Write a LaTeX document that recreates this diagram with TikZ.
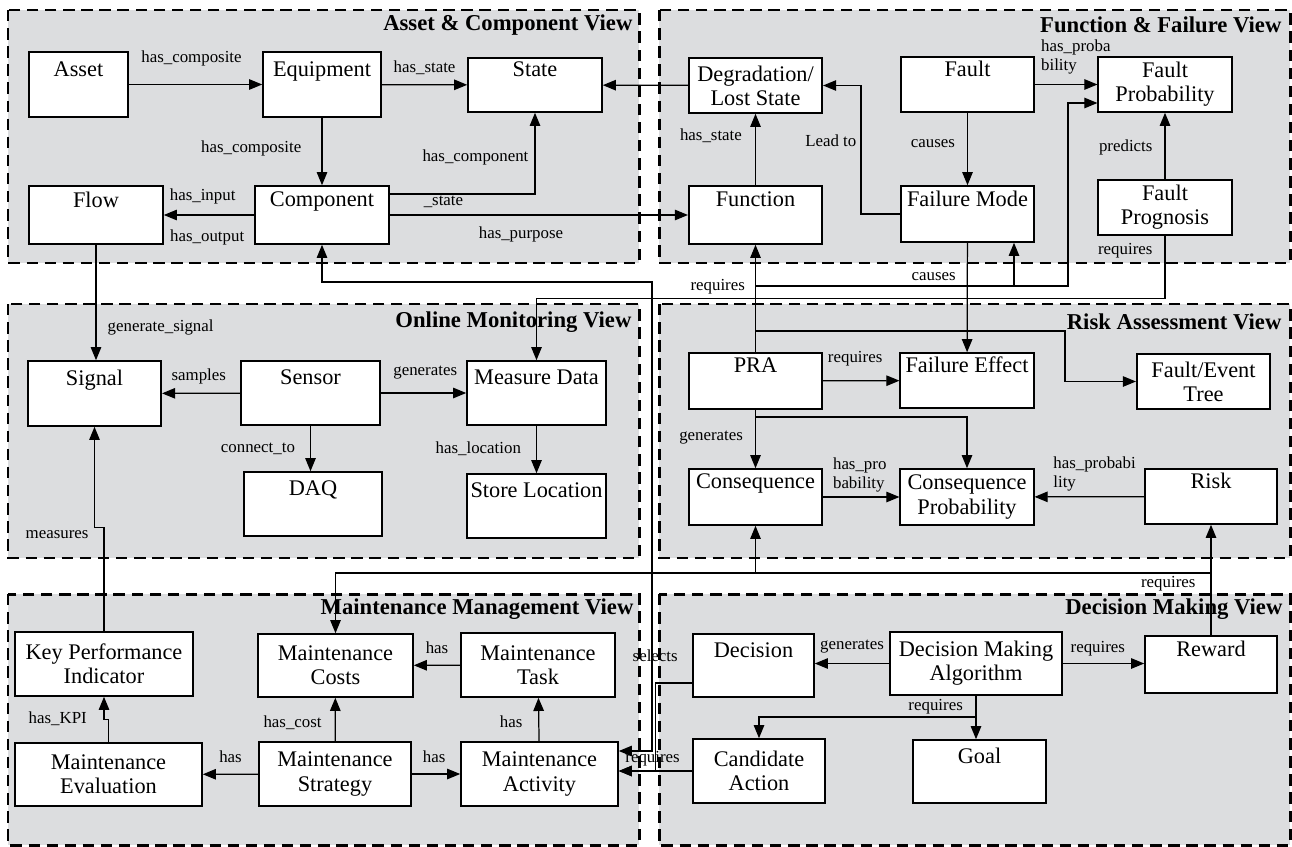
\documentclass[tikz,border=0pt]{standalone}
\usepackage{fontspec}
\setmainfont{Liberation Serif}
\usepackage{tikz}
\usetikzlibrary{arrows.meta,positioning}

\definecolor{viewgray}{RGB}{220,221,223}
\newcommand\boxfont{\fontsize{12.7}{13.7}\selectfont}
\newcommand\lblfont{\fontsize{9.6}{10.8}\selectfont}
\newcommand\viewfont{\fontsize{12.9}{14}\selectfont\bfseries}

\begin{document}
\begin{tikzpicture}[x=0.2mm, y=-0.2mm, line width=0.7pt, >={Triangle[length=7.5pt,width=6pt]},
  view/.style={draw, fill=viewgray, line width=1.7pt, dash pattern=on 6.5pt off 3.8pt},
  viewtitle/.style={font=\viewfont, anchor=east, inner sep=0pt},
  box/.style={draw, fill=white, line width=0.9pt, align=center, font=\boxfont, inner sep=1pt, minimum width=26.7mm, minimum height=11.2mm},
  lbl/.style={font=\lblfont, inner sep=1pt, text height=7pt, text depth=2.5pt},
  lbltwo/.style={font=\lblfont, inner sep=1pt, align=left, anchor=south west}]
\useasboundingbox (0,0) rectangle (1292,847);

\draw[view] (8,10) rectangle (639,263);
\draw[view] (659,10) rectangle (1290,263);
\draw[view] (8,304) rectangle (639,558);
\draw[view] (659,304) rectangle (1290,558);
\draw[view] (8,594) rectangle (639,845);
\draw[view] (659,594) rectangle (1290,845);

\node[viewtitle] (tasset) at (633,25) {Asset \& Component View};
\node[viewtitle] (tfunc) at (1282,25) {Function \& Failure View};
\node[viewtitle] (tmon) at (632,322) {Online Monitoring View};
\node[viewtitle] (trisk) at (1282,322) {Risk Assessment View};
\node[viewtitle] (tmaint) at (634,609) {Maintenance Management View};
\node[viewtitle] (tdec) at (1283,609) {Decision Making View};

% asset & component
\node[box, minimum width=19.8mm, minimum height=13mm] (asset) at (78.5,84.5) {Asset\\\strut};
\node[box, minimum width=23.6mm, minimum height=13mm] (equip) at (322,84.5) {Equipment\\\strut};
\node[box, minimum width=26.8mm, minimum height=10.8mm] (state) at (535,85) {State\\\strut};
\node[box, minimum width=26.8mm, minimum height=11.6mm] (flow) at (96,215) {Flow\\\strut};
\node[box, minimum width=26.8mm, minimum height=11.6mm] (comp) at (322,215) {Component\\\strut};

% function & failure
\node[box, minimum height=11mm] (degr) at (755.5,85.5) {Degradation/\\Lost State};
\node[box, minimum height=11mm] (fault) at (967.5,84.5) {Fault\\\strut};
\node[box, minimum height=11mm] (fprob) at (1165,84.5) {Fault\\Probability};
\node[box, minimum height=11.6mm] (func) at (755.5,215) {Function\\\strut};
\node[box] (fmode) at (967.5,214) {Failure Mode\\\strut};
\node[box, minimum height=11mm] (fprog) at (1165,207.5) {Fault\\Prognosis};

% online monitoring
\node[box, minimum height=13mm] (signal) at (94.5,393.5) {Signal\\\strut};
\node[box, minimum width=27.8mm, minimum height=12.8mm] (sensor) at (310.5,393) {Sensor\\\strut};
\node[box, minimum width=27.8mm, minimum height=12.8mm] (mdata) at (536.5,393) {Measure Data\\\strut};
\node[box, minimum width=27.6mm, minimum height=12.8mm] (daq) at (313,504) {DAQ\\\strut};
\node[box, minimum width=27.8mm, minimum height=12.8mm] (store) at (536.5,506) {Store Location\\\strut};

% risk assessment
\node[box] (pra) at (755.5,381) {PRA\\\strut};
\node[box, minimum height=11mm] (feff) at (967,380.5) {Failure Effect\\\strut};
\node[box, minimum height=11mm] (ftree) at (1203.5,381.5) {Fault/Event\\Tree};
\node[box] (cons) at (755.5,497) {Consequence\\\strut};
\node[box] (cprob) at (967,497) {Consequence\\Probability};
\node[box, minimum width=26.4mm, minimum height=11mm] (risk) at (1211,496.5) {Risk\\\strut};

% maintenance management
\node[box, minimum width=35.6mm, minimum height=12.8mm] (kpi) at (104,664) {Key Performance\\Indicator};
\node[box, minimum width=31mm, minimum height=12.6mm] (mcost) at (335.5,665.5) {Maintenance\\Costs};
\node[box, minimum width=30.8mm, minimum height=12.8mm] (mtask) at (538,665) {Maintenance\\Task};
\node[box, minimum width=37.4mm, minimum height=12.6mm] (meval) at (108.5,774.5) {Maintenance\\Evaluation};
\node[box, minimum width=30.4mm, minimum height=12.8mm] (mstrat) at (335,774) {Maintenance\\Strategy};
\node[box, minimum width=31.4mm, minimum height=12.8mm] (mact) at (539.5,774) {Maintenance\\Activity};

% decision making
\node[box, minimum width=24.2mm, minimum height=12.6mm] (dec) at (753.5,665.5) {Decision\\\strut};
\node[box, minimum width=34.4mm, minimum height=12.6mm] (dma) at (976,663.5) {Decision Making\\Algorithm};
\node[box, minimum width=26.4mm, minimum height=11.4mm] (reward) at (1211,664.5) {Reward\\\strut};
\node[box, minimum width=26.4mm, minimum height=12.8mm] (cand) at (759,771) {Candidate\\Action};
\node[box, minimum height=12.6mm] (goal) at (979.5,771.5) {Goal\\\strut};

\coordinate (jreq) at (1014,286);
\coordinate (jrew) at (1211,573);

\draw[->] (asset) -- node[lbl, above=8.5pt, pos=0.47]{has\_composite} (equip);
\draw[->] (equip) -- node[lbl, above=3.3pt]{has\_state} (state);
\draw[->] (equip) -- node[lbl, left=10.4pt, pos=0.45]{has\_composite} (comp);
\draw[->] (comp.east |- 0,194) -| node[lbl, left=2.4pt, pos=0.725]{has\_component} (state.south);
\draw[->] (comp) -- node[lbl, above=4.5pt, pos=0.57]{has\_input} node[lbl, below=7pt, pos=0.52]{has\_output} (flow);
\draw[->] (comp) -- node[lbl, above=1.5pt, pos=0.18]{\_state} node[lbl, below=5.3pt, pos=0.44]{has\_purpose} (func);

\draw[->] (degr) -- (state);
\draw[->] (func) -- node[lbl, left=6.4pt, pos=0.68]{has\_state} (degr);
\draw[->] (fmode.west) -- ++(-39,0) |- node[lbl, left=1.3pt, pos=0.277]{Lead to} (degr.east);
\draw[->] (fault) -- node[lbl, left=5.8pt, pos=0.42]{causes} (fmode);
\draw[->] (fault) -- node[lbltwo, pos=0.06, yshift=4.3pt]{has\_proba\\bility} (fprob);
\draw[->] (fprog) -- node[lbl, left=5.8pt, pos=0.47]{predicts} (fprob);
\draw[->] (fprog.south) -- node[lbl, left=5.8pt, pos=0.24]{requires} ++(0,63) -| (mdata.north);
\draw[->] (fmode) -- node[lbl, left=5.3pt, pos=0.31]{causes} (feff);

\draw[->] (pra) -- node[lbl, left=4.7pt, pos=0.61]{requires} (func);
\draw[->] (pra.north |- 0,286) -| (1068,103) -- (fprob.west |- 0,103);
\draw[->] (jreq) -- (jreq |- fmode.south);
\draw[->] (pra.north |- 0,331) -- ++(309.5,0) |- (ftree.west);
\draw[->] (pra) -- node[lbl, above=6.7pt, pos=0.42]{requires} (feff);
\draw[->] (pra) -- node[lbl, left=5.8pt, pos=0.45]{generates} (cons);
\draw[->] (pra.south |- 0,417) -| (cprob.north);
\draw[->] (cons) -- node[lbltwo, pos=0.1, yshift=1.4pt]{has\_pro\\bability} (cprob);
\draw[->] (risk) -- node[lbltwo, pos=0.85, yshift=2pt]{has\_probabi\\lity} (cprob);

\draw[->] (flow.south) -- node[lbl, right=5.3pt, pos=0.72]{generate\_signal} (flow.south |- signal.north);
\draw[->] (sensor) -- node[lbl, above=3.3pt, pos=0.53]{samples} (signal);
\draw[->] (sensor) -- node[lbl, above=6.2pt, pos=0.52]{generates} (mdata);
\draw[->] (sensor.south) -- node[lbl, left=7.5pt]{connect\_to} (sensor.south |- daq.north);
\draw[->] (mdata) -- node[lbl, left=7.5pt]{has\_location} (store);

\draw[->] (mstrat) -- node[lbl, left=6.4pt, pos=0.4]{has\_cost} (mcost);
\draw[->] (mtask) -- node[lbl, above=2.8pt]{has} (mcost);
\draw[->] (mact) -- node[lbl, left=8pt, pos=0.4]{has} (mtask);
\draw[->] (mstrat) -- node[lbl, above=2.8pt]{has} (meval);
\draw[->] (mstrat) -- node[lbl, above=2.8pt, pos=0.46]{has} (mact);
\draw[->] (meval.north) -- node[lbl, pos=1, left=11pt]{has\_KPI} ++(0,-23) -| (kpi.south);
\draw[->] (kpi.north) -- node[lbl, pos=0.93, left=7.5pt]{measures} ++(0,-104) -| (signal.south);

\draw[->] (reward) -- (risk);
\draw[->] (jrew) -| node[lbl, pos=0, anchor=north east, xshift=-7.5pt]{requires} (cons.south);
\draw[->] (jrew) -| (mcost.north);
\draw[<->] (comp.south) |- (652,282) |- (mact.east |- 0,751);
\draw[->] (dec.west |- 0,683) -- node[lbl, pos=1, above=8.5pt]{selects} ++(-37,0) |- (mact.east |- cand.west);
\draw[->] (cand.west) -- node[lbl, pos=0.54, above=1pt]{requires} (cand.west -| mact.east);

\draw[->] (dma.west) -- node[lbl, above=3.9pt]{generates} (dma.west -| dec.east);
\draw[->] (dma.east) -- node[lbl, above=2.2pt, pos=0.43]{requires} (dma.east -| reward.west);
\draw[->] (dma.south) -- (dma.south |- goal.north);
\draw[->] (dma.south |- 0,717) -| node[lbl, pos=0.093, above=0pt]{requires} (cand.north);

\end{tikzpicture}
\end{document}
